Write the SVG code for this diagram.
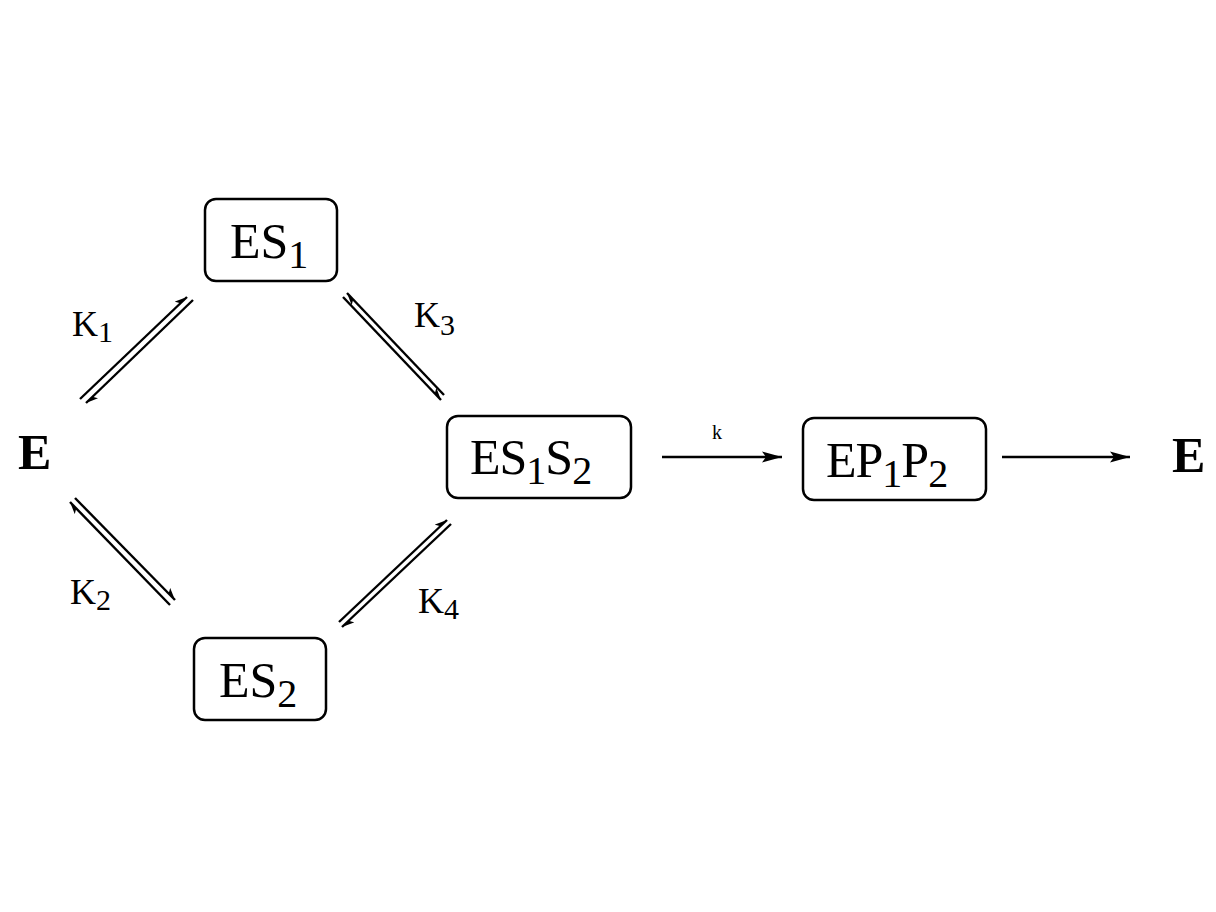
<svg xmlns="http://www.w3.org/2000/svg" width="1216" height="912" viewBox="0 0 1216 912">
<defs>
<marker id="half" markerWidth="14" markerHeight="8" refX="12" refY="6" orient="auto" markerUnits="userSpaceOnUse"><path d="M12,6 L0,1 L3,6 Z" fill="#000"/></marker>
<marker id="full" markerWidth="22" markerHeight="12" refX="20" refY="6" orient="auto" markerUnits="userSpaceOnUse"><path d="M20,6 L0,0.5 L4,6 L0,11.5 Z" fill="#000"/></marker>
</defs>
<style>
.b{fill:#fff;stroke:#000;stroke-width:2.5}
.t{font-family:"Liberation Serif",serif;font-size:50px;fill:#000}
.s{font-size:40px}
.k{font-family:"Liberation Serif",serif;font-size:36px;fill:#000}
.l{stroke:#000;stroke-width:2.4;fill:none}
</style>
<rect width="1216" height="912" fill="#fff"/>
<g id="E1"><text x="18" y="469" class="t" font-weight="bold" font-size="48">E</text></g>
<g id="E2"><text x="1172" y="472" class="t" font-weight="bold" font-size="48">E</text></g>
<g id="ES1"><rect class="b" x="205" y="199" width="132" height="82" rx="11"/><text x="230" y="258" class="t">ES<tspan class="s" dy="10">1</tspan></text></g>
<g id="ES1S2"><rect class="b" x="447" y="416" width="184" height="82" rx="11"/><text x="470" y="474" class="t" letter-spacing="-1">ES<tspan class="s" dy="10">1</tspan><tspan dy="-10">S</tspan><tspan class="s" dy="10">2</tspan></text></g>
<g id="EP1P2"><rect class="b" x="803" y="418" width="183" height="82" rx="11"/><text x="826" y="477" class="t" letter-spacing="-1">EP<tspan class="s" dy="10">1</tspan><tspan dy="-10">P</tspan><tspan class="s" dy="10">2</tspan></text></g>
<g id="ES2"><rect class="b" x="194" y="638" width="132" height="82" rx="11"/><text x="219" y="697" class="t">ES<tspan class="s" dy="10">2</tspan></text></g>
<g id="labels">
<text x="72" y="336" class="k">K<tspan font-size="30" dy="6">1</tspan></text>
<text x="414" y="327" class="k">K<tspan font-size="30" dy="8">3</tspan></text>
<text x="70" y="604" class="k">K<tspan font-size="30" dy="6">2</tspan></text>
<text x="418" y="613" class="k">K<tspan font-size="30" dy="6">4</tspan></text>
<text x="712" y="439" font-family="Liberation Serif,serif" font-size="20">k</text>
</g>
<g id="connectors">
<line class="l" x1="80" y1="399" x2="187" y2="297" marker-end="url(#half)"/>
<line class="l" x1="193" y1="300" x2="86" y2="403" marker-end="url(#half)"/>
<line class="l" x1="444" y1="395" x2="347" y2="293" marker-end="url(#half)"/>
<line class="l" x1="343" y1="297" x2="441" y2="400" marker-end="url(#half)"/>
<line class="l" x1="75" y1="498" x2="175" y2="600" marker-end="url(#half)"/>
<line class="l" x1="170" y1="605" x2="70" y2="502" marker-end="url(#half)"/>
<line class="l" x1="339" y1="622" x2="447" y2="520" marker-end="url(#half)"/>
<line class="l" x1="451" y1="524" x2="342" y2="627" marker-end="url(#half)"/>
<line class="l" x1="662" y1="457" x2="782" y2="457" stroke-width="1.8" marker-end="url(#full)"/>
<line class="l" x1="1002" y1="457" x2="1130" y2="457" stroke-width="1.8" marker-end="url(#full)"/>
</g>
</svg>
